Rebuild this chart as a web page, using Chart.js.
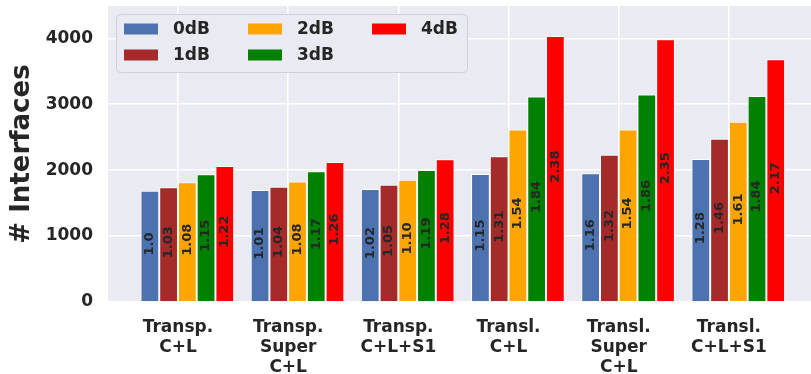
<!DOCTYPE html>
<html>
<head>
<meta charset="utf-8">
<script src="https://cdn.jsdelivr.net/npm/chart.js@4"></script>
<style>
  html, body { margin: 0; padding: 0; background: #fff; }
</style>
</head>
<body>
<canvas id="chart" width="811" height="374"></canvas>
<script>
const categories = [
    ['Transp.', 'C+L'],
    ['Transp.', 'Super', 'C+L'],
    ['Transp.', 'C+L+S1'],
    ['Transl.', 'C+L'],
    ['Transl.', 'Super', 'C+L'],
    ['Transl.', 'C+L+S1'],
]
const seriesNames = ['0dB', '1dB', '2dB', '3dB', '4dB']
const seriesColors = ['#4c72b0', '#a52a2a', '#ffa500', '#008000', '#ff0000']

// # interfaces per margin
const values0dB = [1689, 1700, 1715, 1942, 1953, 2170]
const values1dB = [1740, 1750, 1780, 2211, 2235, 2478]
const values2dB = [1816, 1826, 1856, 2615, 2615, 2736]
const values3dB = [1938, 1983, 2003, 3116, 3146, 3126]
const values4dB = [2064, 2124, 2165, 4036, 3986, 3683]

// ratio text printed inside bars
const ratios0dB = ['1.0', '1.01', '1.02', '1.15', '1.16', '1.28']
const ratios1dB = ['1.03', '1.04', '1.05', '1.31', '1.32', '1.46']
const ratios2dB = ['1.08', '1.08', '1.10', '1.54', '1.54', '1.61']
const ratios3dB = ['1.15', '1.17', '1.19', '1.84', '1.86', '1.84']
const ratios4dB = ['1.22', '1.26', '1.28', '2.38', '2.35', '2.17']

const yTicks = [0, 1000, 2000, 3000, 4000]

const allValues = [values0dB, values1dB, values2dB, values3dB, values4dB]
const allRatios = [ratios0dB, ratios1dB, ratios2dB, ratios3dB, ratios4dB]

const FONT = 'DejaVu Sans'
const TEXT = '#262626'

// empty first slot so the tick sits at the left edge of the 3rd bar, like the original
let datasets = [{ label: '', data: [], ratios: [] }]
seriesNames.forEach((name, s) => {
    datasets.push({
        label: name,
        data: allValues[s].map((v, i) => ({ x: i, y: v })),
        ratios: allRatios[s],
        backgroundColor: seriesColors[s],
        borderColor: '#ffffff',
        borderWidth: 1,
    })
})

const plotBackground = {
    id: 'plotBackground',
    beforeDraw(chart) {
        const { ctx, chartArea } = chart
        ctx.save()
        ctx.fillStyle = '#eaeaf2'
        ctx.fillRect(chartArea.left, chartArea.top, chartArea.right - chartArea.left, chartArea.bottom - chartArea.top)
        ctx.restore()
    }
}

const barRatios = {
    id: 'barRatios',
    afterDatasetsDraw(chart) {
        const ctx = chart.ctx
        ctx.save()
        ctx.font = 'bold 13px "' + FONT + '"'
        ctx.fillStyle = TEXT
        ctx.textAlign = 'center'
        ctx.textBaseline = 'middle'
        chart.data.datasets.forEach((ds, d) => {
            chart.getDatasetMeta(d).data.forEach((bar, i) => {
                const text = ds.ratios[i]
                if (!text) return
                ctx.save()
                ctx.translate(bar.x, (bar.y + bar.base) / 2 - 2)
                ctx.rotate(-Math.PI / 2)
                ctx.fillText(text, 0, 0)
                ctx.restore()
            })
        })
        ctx.restore()
    }
}

// legend in matplotlib order: filled column by column, 3 columns
const columnLegend = {
    id: 'columnLegend',
    afterDraw(chart) {
        const ctx = chart.ctx
        const items = chart.data.datasets.filter(ds => ds.label)
        ctx.save()
        ctx.fillStyle = '#eaeaf2'
        ctx.strokeStyle = '#cfcfd6'
        ctx.lineWidth = 1
        ctx.beginPath()
        ctx.roundRect(116.5, 14.5, 351, 58, 4)
        ctx.fill()
        ctx.stroke()
        ctx.font = 'bold 17px "' + FONT + '"'
        ctx.textAlign = 'left'
        ctx.textBaseline = 'middle'
        items.forEach((ds, k) => {
            const col = Math.floor(k / 2)
            const row = k % 2
            const x = 124 + col * 124
            const y = 29 + row * 26
            ctx.fillStyle = ds.backgroundColor
            ctx.fillRect(x, y - 5.5, 34, 11)
            ctx.fillStyle = TEXT
            ctx.fillText(ds.label, x + 49, y + 1)
        })
        ctx.restore()
    }
}

new Chart(document.getElementById('chart'), {
    type: 'bar',
    data: { datasets: datasets },
    options: {
        responsive: false,
        animation: false,
        events: [],
        layout: { padding: { top: 6, left: 0, right: 0, bottom: 0 } },
        datasets: {
            bar: { categoryPercentage: 1.02, barPercentage: 1 }
        },
        plugins: {
            legend: { display: false },
            tooltip: { enabled: false },
        },
        scales: {
            x: {
                type: 'linear',
                min: -0.635,
                max: 5.745,
                offset: false,
                border: { display: false },
                grid: { color: '#ffffff', lineWidth: 1.5, drawTicks: false, offset: false },
                afterBuildTicks: scale => {
                    scale.ticks = categories.map((c, i) => ({ value: i }))
                },
                ticks: {
                    autoSkip: false,
                    maxRotation: 0,
                    padding: 15,
                    color: TEXT,
                    font: { family: FONT, size: 17, weight: 'bold', lineHeight: 1.2 },
                    callback: v => categories[v],
                },
                afterFit: scale => {
                    scale.height = 72
                    scale.paddingLeft = 0
                    scale.paddingRight = 0
                },
            },
            y: {
                min: 0,
                max: 4490,
                border: { display: false },
                grid: { color: '#ffffff', lineWidth: 1.5, drawTicks: false },
                afterBuildTicks: scale => {
                    scale.ticks = yTicks.map(v => ({ value: v }))
                },
                ticks: {
                    padding: 15,
                    color: TEXT,
                    font: { family: FONT, size: 17, weight: 'bold' },
                    callback: v => String(v),
                },
                title: {
                    display: true,
                    text: '# Interfaces',
                    color: TEXT,
                    padding: { top: 7, bottom: 0 },
                    font: { family: FONT, size: 26, weight: 'bold', lineHeight: 1.2 },
                },
                afterFit: scale => {
                    scale.width = 108
                    scale.paddingTop = 0
                    scale.paddingBottom = 0
                },
            },
        },
    },
    plugins: [plotBackground, barRatios, columnLegend],
})
</script>
</body>
</html>
